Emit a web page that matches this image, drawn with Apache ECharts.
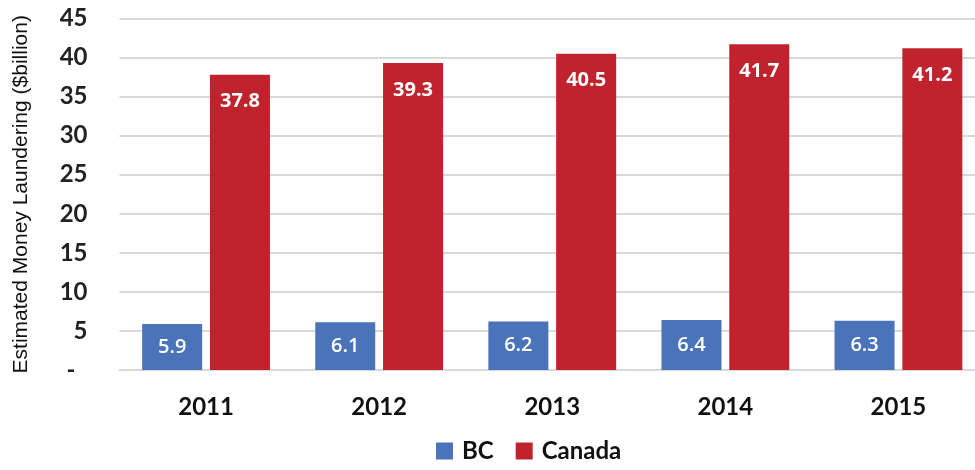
<!DOCTYPE html>
<html>
<head>
<meta charset="utf-8">
<script src="https://cdn.jsdelivr.net/npm/echarts@6/dist/echarts.min.js"></script>
<style>
  html, body { margin: 0; padding: 0; background: #fff; }
  #chart { width: 975px; height: 470px; }
</style>
</head>
<body>
<div id="chart"></div>
<script>
// Estimated money laundering, BC vs Canada ($billion)
const years = ['2011', '2012', '2013', '2014', '2015'];
const bcValues = [5.9, 6.1, 6.2, 6.4, 6.3];
const canadaValues = [37.8, 39.3, 40.5, 41.7, 41.2];
const yTicks = [0, 5, 10, 15, 20, 25, 30, 35, 40, 45];

const boldFont = 'Lato, "Open Sans", sans-serif';

const chart = echarts.init(document.getElementById('chart'));
chart.setOption({
  animation: false,
  grid: { left: 119.5, right: -10, top: 18.5, bottom: 100, outerBoundsMode: 'none', containLabel: false },
  legend: {
    bottom: 2,
    left: 431,
    itemWidth: 17,
    itemHeight: 17,
    itemGap: 22,
    icon: 'rect',
    textStyle: { fontFamily: boldFont, fontWeight: 'bold', fontSize: 24, color: '#111', padding: [0, 0, 0, 4] },
    data: ['BC', 'Canada']
  },
  xAxis: {
    type: 'category',
    data: years,
    axisLine: { show: true, lineStyle: { color: '#d9d9d9', width: 2 } },
    axisTick: { show: false },
    axisLabel: { fontFamily: boldFont, fontWeight: 'bold', fontSize: 24, color: '#111', margin: 25 }
  },
  yAxis: {
    type: 'value',
    min: yTicks[0],
    max: yTicks[yTicks.length - 1],
    interval: 5,
    name: 'Estimated Money Laundering ($billion)',
    nameLocation: 'middle',
    nameGap: 88,
    nameTextStyle: { fontFamily: '"Liberation Sans", Arial, sans-serif', fontSize: 21, color: '#111' },
    axisLine: { show: false },
    axisTick: { show: false },
    splitLine: { lineStyle: { color: '#d9d9d9', width: 2 } },
    axisLabel: {
      fontFamily: boldFont, fontWeight: 'bold', fontSize: 24, color: '#222', margin: 32,
      formatter: v => (v === 0 ? '-\u2002' : String(v))
    }
  },
  series: [
    {
      name: 'BC',
      type: 'bar',
      data: bcValues,
      barWidth: 60,
      barGap: '13%',
      itemStyle: { color: '#4a73b9' },
      label: {
        show: true, position: 'inside',
        color: '#fff', fontFamily: '"Open Sans", sans-serif', fontSize: 20, fontWeight: 600
      }
    },
    {
      name: 'Canada',
      type: 'bar',
      data: canadaValues,
      barWidth: 60,
      itemStyle: { color: '#c0232e' },
      label: {
        show: true, position: 'insideTop', distance: 17,
        color: '#fff', fontFamily: '"Open Sans", sans-serif', fontSize: 20, fontWeight: 'bold'
      }
    }
  ]
});
</script>
</body>
</html>
